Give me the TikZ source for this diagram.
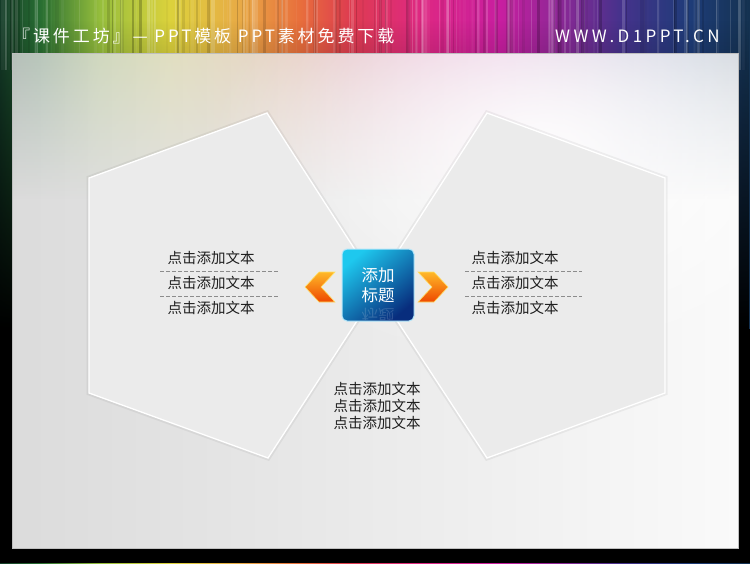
\documentclass[tikz,border=0pt]{standalone}
\usepackage{fontspec}
\setmainfont{Noto Sans CJK SC}
\newfontfamily\urlfont[LetterSpace=20]{Noto Sans CJK SC}
\newfontfamily\ttlfont[LetterSpace=17]{Noto Sans CJK SC}
\usetikzlibrary{fadings}
\definecolor{rb0}{RGB}{20,60,40}
\definecolor{rb1}{RGB}{40,110,50}
\definecolor{rb2}{RGB}{150,190,60}
\definecolor{rb3}{RGB}{220,210,60}
\definecolor{rb4}{RGB}{232,170,70}
\definecolor{rb5}{RGB}{232,110,60}
\definecolor{rb6}{RGB}{222,60,80}
\definecolor{rb7}{RGB}{222,40,130}
\definecolor{rb8}{RGB}{200,30,160}
\definecolor{rb9}{RGB}{140,40,150}
\definecolor{rb10}{RGB}{70,50,140}
\definecolor{rb11}{RGB}{30,60,120}
\definecolor{rb12}{RGB}{20,50,80}
\pgfdeclarehorizontalshading{rainbow}{100bp}{color(0bp)=(rb0); color(25bp)=(rb0); color(27.67bp)=(rb1); color(31.67bp)=(rb2); color(36.33bp)=(rb3); color(41bp)=(rb4); color(45bp)=(rb5); color(48.33bp)=(rb6); color(53bp)=(rb7); color(58.33bp)=(rb8); color(62.33bp)=(rb9); color(66.33bp)=(rb10); color(71bp)=(rb11); color(75bp)=(rb12); color(100bp)=(rb12)}
\tikzfading[name=softglow, inner color=transparent!0, outer color=transparent!100]
\definecolor{hexfill}{RGB}{235,235,235}
\definecolor{txt}{RGB}{30,30,30}
\definecolor{dashc}{RGB}{140,140,140}
\definecolor{sqtop}{RGB}{30,200,238}
\definecolor{sqbot}{RGB}{8,45,125}
\definecolor{chevA}{RGB}{255,185,40}
\definecolor{chevB}{RGB}{238,72,0}
\tikzset{
  hexshape/.style={fill=hexfill, draw=white, line width=1.3pt, line join=miter},
  hexshadow/.style={draw=black, opacity=0.05, line width=5pt, line join=miter},
  itemtext/.style={text=txt, font=\fontsize{14.5}{17}\selectfont, inner sep=0pt},
  sepline/.style={draw=dashc, line width=0.9pt, dash pattern=on 4pt off 2pt},
  titlebox/.style={rounded corners=5pt, minimum size=72pt, inner sep=0pt, draw=cyan!30, line width=1pt,
     top color=sqtop, bottom color=sqbot, shading angle=40, text=white, align=center,
     font=\fontsize{16.5}{20}\selectfont},
  chev/.style={top color=chevA, bottom color=chevB, draw=orange!40!yellow!60, line width=0.6pt, line join=miter},
}
\begin{document}
\begin{tikzpicture}[x=1pt,y=-1pt]
\useasboundingbox (0,0) rectangle (750,563);
% background banner
\shade[shading=rainbow] (0,0) rectangle (750,563);
\pgfmathsetseed{11}
\foreach \i in {1,...,140}{
  \pgfmathsetmacro\xx{rnd*750}
  \pgfmathsetmacro\ww{0.5+rnd*3}
  \pgfmathsetmacro\op{rnd*0.2}
  \fill[white, opacity=\op] (\xx,0) rectangle ++(\ww,70);
}
\foreach \i in {1,...,80}{
  \pgfmathsetmacro\xx{rnd*750}
  \pgfmathsetmacro\ww{0.5+rnd*3}
  \pgfmathsetmacro\op{rnd*0.22}
  \fill[black, opacity=\op] (\xx,0) rectangle ++(\ww,70);
}
\fill[black, path fading=north] (0,20) rectangle (750,330);
\fill[black] (0,329) rectangle (750,563);
% panel
\begin{scope}
  \clip (12,53) rectangle (738,548);
  \shade[left color=black!14, right color=black!2] (12,53) rectangle (738,548);
  \shade[shading=rainbow, opacity=0.2, path fading=south] (0,53) rectangle (750,200);
  \fill[white, opacity=0.95, path fading=softglow] (540,150) ellipse (330 and 220);
\end{scope}
\draw[black!25, line width=0.6pt] (12,53) rectangle (738,548);
% title
\node[anchor=west, text=white, font=\ttlfont\fontsize{17}{17}\selectfont, inner sep=0pt] (ttl) at (13,36) {『课件工坊』— PPT模板 PPT素材免费下载};
\node[anchor=west, text=white, font=\urlfont\fontsize{17}{17}\selectfont, inner sep=0pt] (url) at (555,36) {WWW.D1PPT.CN};
% pentagons
\draw[hexshadow] (267,113) -- (89,178) -- (89,393) -- (268,458) -- (379,287) -- cycle;
\draw[hexshadow] (487,113) -- (665,178) -- (665,393) -- (487,458) -- (375,287) -- cycle;
\path[hexshape] (267,113) -- (89,178) -- (89,393) -- (268,458) -- (379,287) -- cycle;
\path[hexshape] (487,113) -- (665,178) -- (665,393) -- (487,458) -- (375,287) -- cycle;
% chevrons
\shade[chev] (319,272) -- (335,272) -- (321,287) -- (335,302) -- (319,302) -- (305,287) -- cycle;
\shade[chev] (434,272) -- (418,272) -- (432,287) -- (418,302) -- (434,302) -- (448,287) -- cycle;
% centre box
\node[titlebox] (ctr) at (378,285) {添加\\标题};
\begin{scope}
  \clip (343,305) rectangle (413,319);
  \node[text=white, opacity=0.15, yscale=-1, font=\fontsize{16.5}{20}\selectfont, inner sep=0pt] (refl) at (378,316) {标题};
\end{scope}
% left texts
\node[itemtext] (l1) at (211,258) {点击添加文本};
\node[itemtext] (l2) at (211,283) {点击添加文本};
\node[itemtext] (l3) at (211,308) {点击添加文本};
\coordinate (la1) at (160,271); \coordinate (lb1) at (278,271);
\coordinate (la2) at (160,296); \coordinate (lb2) at (278,296);
\draw[sepline] (la1) -- (lb1);
\draw[sepline] (la2) -- (lb2);
% right texts
\node[itemtext] (r1) at (515,258) {点击添加文本};
\node[itemtext] (r2) at (515,283) {点击添加文本};
\node[itemtext] (r3) at (515,308) {点击添加文本};
\coordinate (ra1) at (465,271); \coordinate (rb1) at (582,271);
\coordinate (ra2) at (465,296); \coordinate (rb2) at (582,296);
\draw[sepline] (ra1) -- (rb1);
\draw[sepline] (ra2) -- (rb2);
% bottom text
\node[itemtext, align=center] (bt) at (377,406) {点击添加文本\\点击添加文本\\点击添加文本};
\end{tikzpicture}
\end{document}
